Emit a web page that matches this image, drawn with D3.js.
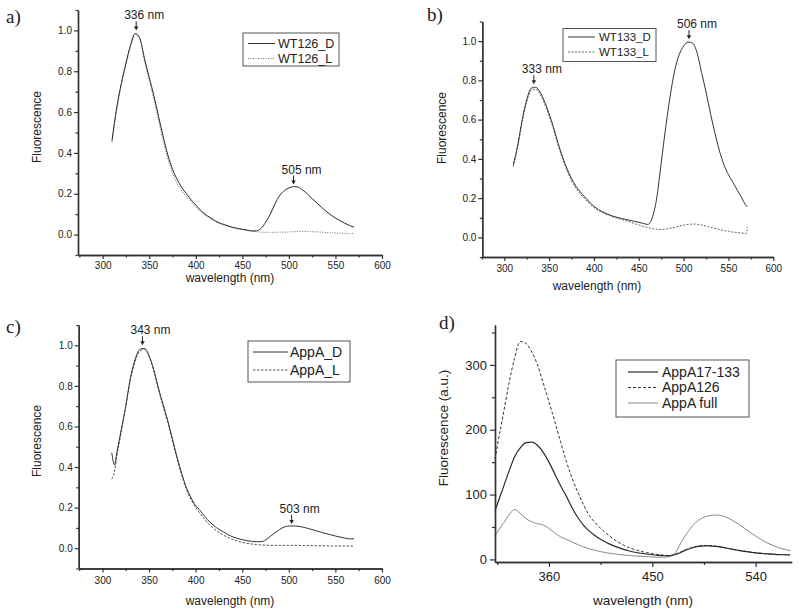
<!DOCTYPE html>
<html><head><meta charset="utf-8">
<script src="https://cdn.jsdelivr.net/npm/d3@7"></script>
<style>
body{margin:0;background:#fff}
svg{display:block}
text{font-family:"Liberation Sans",Arial,sans-serif;fill:#222}
</style>
</head><body>
<svg id="chart" width="800" height="614"></svg>
<script>
// ---------- DATA ----------
const wlA = [310,315,320,325,330,335,340,345,350,355,360,365,370,375,380,385,390,395,400,405,410,415,420,425,430,435,440,445,450,455,460,465,470,475,480,485,490,495,500,505,510,515,520,525,530,535,540,545,550,555,560,565,570];
const wt126D = [0.46,0.62,0.74,0.84,0.93,0.985,0.96,0.86,0.77,0.68,0.58,0.48,0.39,0.32,0.27,0.23,0.20,0.17,0.145,0.12,0.10,0.085,0.07,0.058,0.05,0.042,0.035,0.03,0.026,0.022,0.018,0.018,0.03,0.06,0.10,0.15,0.19,0.215,0.228,0.235,0.232,0.218,0.198,0.176,0.155,0.134,0.114,0.096,0.081,0.068,0.056,0.045,0.036];
const wt126L = [0.45,0.61,0.73,0.83,0.92,0.98,0.955,0.85,0.755,0.66,0.56,0.46,0.37,0.30,0.25,0.215,0.185,0.16,0.135,0.115,0.095,0.08,0.066,0.055,0.047,0.04,0.034,0.029,0.024,0.02,0.017,0.014,0.012,0.011,0.011,0.011,0.012,0.012,0.013,0.014,0.015,0.015,0.015,0.014,0.013,0.012,0.01,0.009,0.008,0.007,0.006,0.005,0.005];

const wlB = [310,315,320,325,330,335,340,345,350,355,360,365,370,375,380,385,390,395,400,405,410,415,420,425,430,435,440,445,450,455,460,465,470,475,480,485,490,495,500,505,510,515,520,525,530,535,540,545,550,555,560,565,570,571];
const wt133D = [0.37,0.47,0.60,0.70,0.76,0.765,0.74,0.69,0.63,0.56,0.48,0.41,0.35,0.30,0.26,0.23,0.205,0.18,0.158,0.142,0.13,0.119,0.11,0.103,0.097,0.092,0.087,0.082,0.077,0.071,0.066,0.10,0.20,0.38,0.56,0.72,0.85,0.93,0.975,0.995,0.99,0.94,0.84,0.74,0.63,0.53,0.44,0.37,0.32,0.28,0.24,0.20,0.16,0.155];
const wt133L = [0.36,0.46,0.59,0.69,0.75,0.755,0.73,0.68,0.62,0.55,0.47,0.40,0.34,0.29,0.25,0.22,0.195,0.172,0.152,0.137,0.125,0.115,0.106,0.099,0.092,0.086,0.079,0.071,0.063,0.056,0.05,0.045,0.042,0.04,0.042,0.046,0.051,0.057,0.062,0.066,0.068,0.067,0.063,0.057,0.051,0.045,0.04,0.035,0.031,0.027,0.025,0.022,0.02,0.055];

const wlC = [310,313,315,320,325,330,335,340,345,350,355,360,365,370,375,380,385,390,395,400,405,410,415,420,425,430,435,440,445,450,455,460,465,470,475,480,485,490,495,500,505,510,515,520,525,530,535,540,545,550,555,560,565,570];
const appAD = [0.47,0.41,0.46,0.58,0.70,0.84,0.93,0.98,0.985,0.95,0.88,0.79,0.71,0.63,0.54,0.45,0.37,0.30,0.25,0.21,0.185,0.155,0.13,0.11,0.093,0.08,0.066,0.056,0.048,0.042,0.037,0.034,0.032,0.032,0.04,0.058,0.075,0.092,0.104,0.109,0.11,0.108,0.104,0.098,0.092,0.085,0.078,0.072,0.066,0.06,0.055,0.05,0.046,0.046];
const appAL = [0.34,0.38,0.44,0.57,0.70,0.83,0.92,0.97,0.98,0.945,0.875,0.785,0.70,0.62,0.53,0.44,0.36,0.29,0.24,0.20,0.17,0.14,0.115,0.095,0.078,0.064,0.052,0.043,0.035,0.029,0.024,0.021,0.018,0.016,0.015,0.014,0.014,0.014,0.014,0.014,0.014,0.014,0.013,0.013,0.013,0.012,0.012,0.012,0.011,0.011,0.011,0.011,0.011,0.011];

const wlD = [313,315,320,325,330,335,340,345,350,355,360,365,370,375,380,385,390,395,400,405,410,415,420,425,430,435,440,445,450,455,460,465,470,475,480,485,490,495,500,505,510,515,520,525,530,535,540,545,550,555,560,565,570];
const appA17_133 = [75,85,110,135,158,172,180,181,176,165,150,132,114,98,80,65,53,44,37,31,26,22,18.5,15.5,13,11,9.5,8.3,7.2,6.3,5.6,5.5,7.5,11,15,18,20,21,20.8,20,18.8,17.2,15.5,14,12.5,11.2,10,9.2,8.5,8,7.5,7.2,7];
const appA126 = [155,175,222,270,310,336,333,320,300,272,243,213,182,152,126,104,85,68,57,48,40,33,27,22,18,15,12.5,10.5,9,7.5,6.5,6,8,11.5,15.5,18.5,20.5,21.5,21.5,20.5,19,17.5,15.8,14.2,12.8,11.5,10.3,9.4,8.6,8,7.6,7.3,7];
const appAFull = [37,42,55,68,77,71,63,58,55,53,48,41,35,31,27,23,19.5,16.5,14,12,10.3,9,7.8,6.8,6,5.3,4.7,4.2,3.8,3.5,3.3,4.5,10,26,40,52,60,65,67.5,68.5,67.5,64.5,60,54.5,48.5,42,36,30.5,25.5,21.5,18,15.5,13.5];

const xTicksABC = [300,350,400,450,500,550,600];
const xMinorABC = [275,325,375,425,475,525,575];
const yTicksABC = [0.0,0.2,0.4,0.6,0.8,1.0];
const yMinorABC = [-0.1,0.1,0.3,0.5,0.7,0.9,1.1];
const xTicksD = [360,450,540];
const xMinorD = [315,405,495];
const yTicksD = [0,100,200,300];
const yMinorD = [50,150,250,350];

const peaksA = [{wl:336, v:0.99, label:"336 nm"},{wl:505, v:0.235, label:"505 nm"}];
const peaksB = [{wl:333, v:0.77, label:"333 nm"},{wl:506, v:1.0, label:"506 nm"}];
const peaksC = [{wl:343, v:0.99, label:"343 nm"},{wl:503, v:0.11, label:"503 nm"}];

// ---------- DRAW ----------
const svg = d3.select('#chart');

const panels = [
  {tag:'a)', tagPos:[6,23], xDom:[273.5,600], xR:[78,382], yDom:[-0.1,1.1], yR:[255,10],
   xt:xTicksABC, xm:xMinorABC, yt:yTicksABC, ym:yMinorABC, fmt:d3.format('.1f'), fs:10, tfs:12, xpad:3,
   xTitle:[230,282], yTitle:[37,127], yLabel:'Fluorescence',
   series:[{wl:wlA,v:wt126D,name:'WT126_D',stroke:'#2a2a2a',dash:null,w:1},
           {wl:wlA,v:wt126L,name:'WT126_L',stroke:'#6a6a6a',dash:'1,1.5',w:1}],
   legend:{x:243,y:33,w:96,h:33,row:15,first:10.5,l0:5,l1:32,tx:35,fs:12.5},
   peaks:peaksA},
  {tag:'b)', tagPos:[427,21], xDom:[275.5,600], xR:[482.3,773.3], yDom:[-0.1,1.1], yR:[257,21.5],
   xt:xTicksABC, xm:xMinorABC, yt:yTicksABC, ym:yMinorABC, fmt:d3.format('.1f'), fs:10, tfs:12, xpad:4,
   xTitle:[597,290], yTitle:[442,128], yLabel:'Fluorescence',
   series:[{wl:wlB,v:wt133D,name:'WT133_D',stroke:'#333',dash:null,w:1},
           {wl:wlB,v:wt133L,name:'WT133_L',stroke:'#666',dash:'2,1.5',w:1}],
   legend:{x:563,y:28.5,w:93,h:33,row:15,first:8.5,l0:5,l1:32,tx:36,fs:11.5},
   peaks:peaksB},
  {tag:'c)', tagPos:[6,333], xDom:[274.5,600], xR:[78.7,382], yDom:[-0.1,1.1], yR:[568.5,325],
   xt:xTicksABC, xm:xMinorABC, yt:yTicksABC, ym:yMinorABC, fmt:d3.format('.1f'), fs:10, tfs:12, xpad:4,
   xTitle:[230,605], yTitle:[37,441], yLabel:'Fluorescence',
   series:[{wl:wlC,v:appAD,name:'AppA_D',stroke:'#333',dash:null,w:1},
           {wl:wlC,v:appAL,name:'AppA_L',stroke:'#555',dash:'2.5,1.5',w:1}],
   legend:{x:248,y:341,w:102,h:41,row:18,first:11,l0:5,l1:40,tx:42,fs:14},
   peaks:peaksC},
  {tag:'d)', tagPos:[439,329], xDom:[313,571.4], xR:[495,791.7], yDom:[-4,361.5], yR:[562,325],
   xt:xTicksD, xm:xMinorD, yt:yTicksD, ym:yMinorD, fmt:d3.format('d'), fs:13, tfs:13.5, big:true, xpad:4.5,
   xTitle:[643,605], yTitle:[443,428], yLabel:'Fluorescence (a.u.)',
   series:[{wl:wlD,v:appA17_133,name:'AppA17-133',stroke:'#2a2a2a',dash:null,w:1.2},
           {wl:wlD,v:appA126,name:'AppA126',stroke:'#333',dash:'3,2',w:1},
           {wl:wlD,v:appAFull,name:'AppA full',stroke:'#8a8a8a',dash:null,w:1}],
   legend:{x:616,y:360,w:133,h:57,row:15.5,first:12,l0:12,l1:42,tx:46,fs:14},
   peaks:[]}
];

panels.forEach(p => {
  const x = d3.scaleLinear().domain(p.xDom).range(p.xR);
  const y = d3.scaleLinear().domain(p.yDom).range(p.yR);
  const g = svg.append('g');
  const major = p.big ? 5 : 4, minor = p.big ? 3 : 2.5;

  // curves
  const line = d3.line().x(d=>x(d[0])).y(d=>y(d[1])).curve(d3.curveMonotoneX);
  p.series.slice().reverse().forEach(s => {
    const pts = s.wl.map((w,i)=>[w,s.v[i]]);
    g.append('path').attr('d',line(pts)).attr('fill','none')
      .attr('stroke',s.stroke).attr('stroke-width',s.w)
      .attr('stroke-dasharray',s.dash);
  });

  // axes
  const styleAxis = sel => {
    sel.select('.domain').attr('stroke','#333').attr('stroke-width',1.4);
    sel.selectAll('.tick line').attr('stroke','#333').attr('stroke-width',1.2);
    sel.selectAll('.tick text').attr('font-size',p.fs).attr('fill','#222')
      .attr('font-family','"Liberation Sans",Arial,sans-serif');
  };
  g.append('g').attr('transform',`translate(0,${p.yR[0]})`)
    .call(d3.axisBottom(x).tickValues(p.xm).tickSize(minor).tickSizeOuter(0).tickFormat(''))
    .call(styleAxis);
  g.append('g').attr('transform',`translate(0,${p.yR[0]})`)
    .call(d3.axisBottom(x).tickValues(p.xt).tickSize(major).tickSizeOuter(0).tickPadding(p.xpad).tickFormat(d3.format('d')))
    .call(styleAxis);
  g.append('g').attr('transform',`translate(${p.xR[0]},0)`)
    .call(d3.axisLeft(y).tickValues(p.ym).tickSize(minor).tickSizeOuter(0).tickFormat(''))
    .call(styleAxis);
  g.append('g').attr('transform',`translate(${p.xR[0]},0)`)
    .call(d3.axisLeft(y).tickValues(p.yt).tickSize(major).tickSizeOuter(0).tickPadding(p.big?3:2).tickFormat(p.fmt))
    .call(styleAxis);

  // titles
  g.append('text').attr('x',p.xTitle[0]).attr('y',p.xTitle[1]).attr('text-anchor','middle')
    .attr('font-size',p.tfs).text('wavelength (nm)');
  g.append('text').attr('transform',`translate(${p.yTitle[0]},${p.yTitle[1]}) rotate(-90)`)
    .attr('text-anchor','middle').attr('dy','0.35em').attr('font-size',p.tfs).text(p.yLabel);
  g.append('text').attr('x',p.tagPos[0]).attr('y',p.tagPos[1])
    .style('font-family','"Liberation Serif","Times New Roman",serif').attr('font-size',19).text(p.tag);

  // legend
  const L = p.legend;
  const lg = g.append('g').attr('transform',`translate(${L.x},${L.y})`);
  lg.append('rect').attr('width',L.w).attr('height',L.h).attr('fill','#fff')
    .attr('stroke','#555').attr('stroke-width',1);
  p.series.forEach((s,i) => {
    const yy = L.first + i*L.row;
    lg.append('line').attr('x1',L.l0).attr('x2',L.l1).attr('y1',yy).attr('y2',yy)
      .attr('stroke',s.stroke).attr('stroke-width',s.w).attr('stroke-dasharray',s.dash);
    lg.append('text').attr('x',L.tx).attr('y',yy).attr('dy','0.35em')
      .attr('font-size',L.fs).text(s.name);
  });

  // peak annotations
  p.peaks.forEach(pk => {
    const px = x(pk.wl), tip = y(pk.v) - 2;
    g.append('line').attr('x1',px).attr('x2',px).attr('y1',tip-9).attr('y2',tip-3)
      .attr('stroke','#222').attr('stroke-width',1);
    g.append('path').attr('d',`M${px-2.2},${tip-4}L${px+2.2},${tip-4}L${px},${tip}Z`).attr('fill','#222');
    g.append('text').attr('x',px-12).attr('y',tip-11).attr('font-size',12).text(pk.label);
  });
});
</script>
</body></html>
